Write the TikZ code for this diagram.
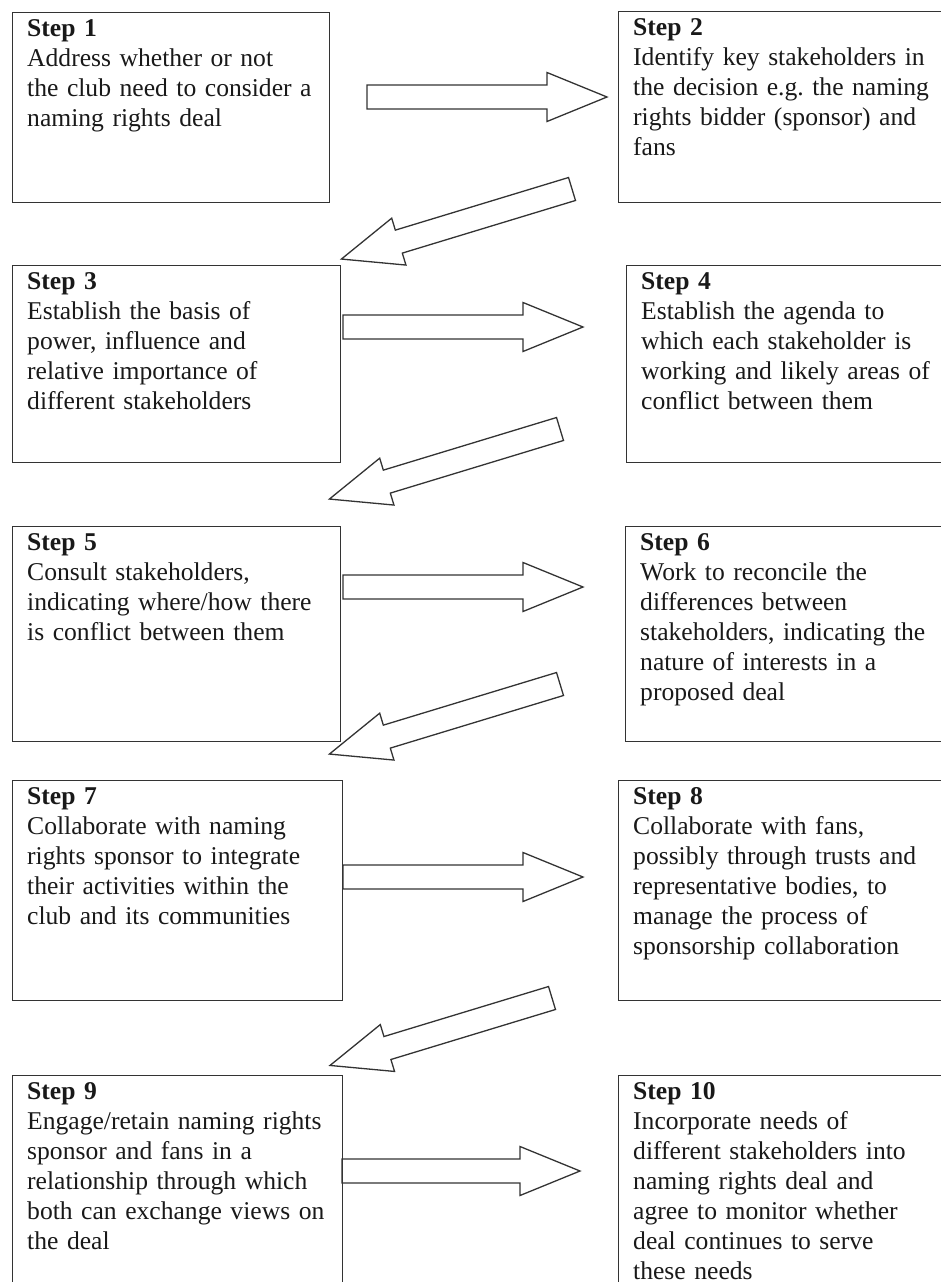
\documentclass[tikz,border=0pt]{standalone}
\usepackage{fontspec}
\setmainfont{Liberation Serif}
\usetikzlibrary{positioning}
\frenchspacing

\tikzset{
  stepbox/.style={draw=black!80, line width=1.3pt, anchor=north west, inner sep=0pt},
  steptext/.style={anchor=north west, inner sep=0pt, align=left, text width=330pt,
    font=\fontsize{25.6}{30}\selectfont, text=black!90},
  pics/fatarrow/.style={code={
    \draw[draw=black!80, line width=1.3pt, line join=miter]
      (0,-12) -- (#1-60,-12) -- (#1-60,-24.5) -- (#1,0) -- (#1-60,24.5) -- (#1-60,12) -- (0,12) -- cycle;}}
}

\begin{document}
\begin{tikzpicture}[x=1pt, y=-1pt]
  \path[use as bounding box, clip] (0,0) rectangle (941,1282);
  % boxes
  \node[stepbox, minimum width=317pt, minimum height=190pt] (s1) at (12,12) {};
  \node[stepbox, minimum width=332pt, minimum height=191pt] (s2) at (618,11) {};
  \node[stepbox, minimum width=328pt, minimum height=197pt] (s3) at (12,265) {};
  \node[stepbox, minimum width=324pt, minimum height=197pt] (s4) at (626,265) {};
  \node[stepbox, minimum width=328pt, minimum height=215pt] (s5) at (12,526) {};
  \node[stepbox, minimum width=325pt, minimum height=215pt] (s6) at (625,526) {};
  \node[stepbox, minimum width=330pt, minimum height=220pt] (s7) at (12,780) {};
  \node[stepbox, minimum width=332pt, minimum height=220pt] (s8) at (618,780) {};
  \node[stepbox, minimum width=330pt, minimum height=230pt] (s9) at (12,1075) {};
  \node[stepbox, minimum width=332pt, minimum height=230pt] (s10) at (618,1075) {};
  % texts
  \node[steptext, below right=7pt and 15pt of s1.north west] (t1) {\textbf{Step 1}\\Address whether or not\\the club need to consider a\\naming rights deal};
  \node[steptext, below right=7pt and 15pt of s2.north west] (t2) {\textbf{Step 2}\\Identify key stakeholders in\\the decision e.g. the naming\\rights bidder (sponsor) and\\fans};
  \node[steptext, below right=7pt and 15pt of s3.north west] (t3) {\textbf{Step 3}\\Establish the basis of\\power, influence and\\relative importance of\\different stakeholders};
  \node[steptext, below right=7pt and 15pt of s4.north west] (t4) {\textbf{Step 4}\\Establish the agenda to\\which each stakeholder is\\working and likely areas of\\conflict between them};
  \node[steptext, below right=7pt and 15pt of s5.north west] (t5) {\textbf{Step 5}\\Consult stakeholders,\\indicating where/how there\\is conflict between them};
  \node[steptext, below right=7pt and 15pt of s6.north west] (t6) {\textbf{Step 6}\\Work to reconcile the\\differences between\\stakeholders, indicating the\\nature of interests in a\\proposed deal};
  \node[steptext, below right=7pt and 15pt of s7.north west] (t7) {\textbf{Step 7}\\Collaborate with naming\\rights sponsor to integrate\\their activities within the\\club and its communities};
  \node[steptext, below right=7pt and 15pt of s8.north west] (t8) {\textbf{Step 8}\\Collaborate with fans,\\possibly through trusts and\\representative bodies, to\\manage the process of\\sponsorship collaboration};
  \node[steptext, below right=7pt and 15pt of s9.north west] (t9) {\textbf{Step 9}\\Engage/retain naming rights\\sponsor and fans in a\\relationship through which\\both can exchange views on\\the deal};
  \node[steptext, below right=7pt and 15pt of s10.north west] (t10) {\textbf{Step 10}\\Incorporate needs of\\different stakeholders into\\naming rights deal and\\agree to monitor whether\\deal continues to serve\\these needs};
  % arrows
  \foreach \n/\x/\y/\l in {a1/367/97/240, a3/343/327/240, a5/343/587/240, a7/343/877/240, a9/342/1171/238}
    { \coordinate (\n) at (\x,\y); \pic at (\n) {fatarrow=\l}; }
  \foreach \n/\x/\y/\l in {a2/572/189/241, a4/560/429/241, a6/560/684/241, a8/552/998/232}
    { \coordinate (\n) at (\x,\y); \pic[rotate=196.9] at (\n) {fatarrow=\l}; }
\end{tikzpicture}
\end{document}
